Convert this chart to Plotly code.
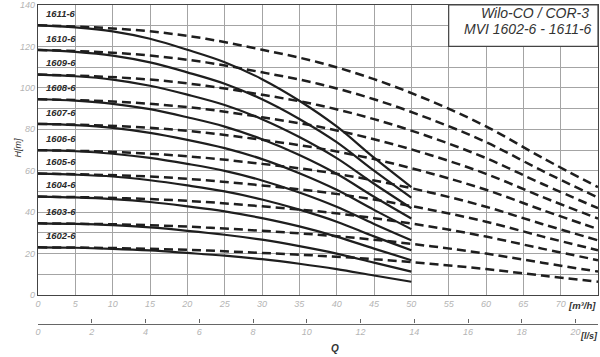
import plotly.graph_objects as go

# ---- data ----
models = ["1602-6", "1603-6", "1604-6", "1605-6", "1606-6",
          "1607-6", "1608-6", "1609-6", "1610-6", "1611-6"]

# flow points (m3/h) for the 2-pump (solid) and 3-pump (dashed) curves
flow_solid = [0, 5, 10, 15, 20, 25, 30, 35, 40, 45, 50]
flow_dashed = [0, 7.5, 15, 22.5, 30, 37.5, 45, 52.5, 60, 67.5, 75]

head_1602 = [23.0, 22.8, 22.3, 21.5, 20.3, 19.0, 17.3, 15.1, 12.5, 9.4, 6.4]
head_1603 = [34.6, 34.3, 33.7, 32.6, 31.0, 29.1, 26.7, 23.6, 20.0, 15.6, 11.3]
head_1604 = [47.5, 47.1, 46.3, 44.9, 42.8, 40.4, 37.1, 33.1, 28.2, 22.4, 16.8]
head_1605 = [58.6, 58.1, 57.2, 55.4, 52.9, 50.0, 46.1, 41.2, 35.4, 28.3, 21.6]
head_1606 = [69.9, 69.4, 68.2, 66.2, 63.3, 59.9, 55.3, 49.5, 42.6, 34.3, 26.4]
head_1607 = [82.6, 82.0, 80.7, 78.3, 74.9, 70.9, 65.6, 58.8, 50.8, 41.1, 31.8]
head_1608 = [94.5, 93.8, 92.3, 89.7, 85.8, 81.3, 75.2, 67.6, 58.5, 47.4, 36.9]
head_1609 = [106.4, 105.6, 104.0, 101.0, 96.7, 91.7, 84.9, 76.3, 66.1, 53.7, 41.9]
head_1610 = [118.3, 117.4, 115.6, 112.3, 107.5, 102.0, 94.5, 85.0, 73.8, 60.0, 47.0]
head_1611 = [130.2, 129.2, 127.3, 123.7, 118.4, 112.4, 104.2, 93.8, 81.4, 66.3, 52.1]

heads = [head_1602, head_1603, head_1604, head_1605, head_1606,
         head_1607, head_1608, head_1609, head_1610, head_1611]

x_ticks = [0, 5, 10, 15, 20, 25, 30, 35, 40, 45, 50, 55, 60, 65, 70]
y_ticks = [0, 20, 40, 60, 80, 100, 120, 140]
ls_ticks = [0, 2, 4, 6, 8, 10, 12, 14, 16, 18, 20]
title_lines = ["Wilo-CO / COR-3", "MVI 1602-6 - 1611-6"]

# ---- styling ----
FONT = "Liberation Sans"
GRID = "#a4a4a4"
TICKC = "#b4b4b4"
DARK = "#1e1e1e"
H_PAPER = 342.0  # 357 - t - b

def py(pix):
    """pixel row (from top of image) -> paper fraction"""
    return (347 - pix) / H_PAPER

fig = go.Figure()

for name, h in zip(models, heads):
    fig.add_trace(go.Scatter(x=flow_dashed, y=h, mode="lines",
                             line=dict(color=DARK, width=2.5, dash="9px,5px", shape="spline"),
                             hoverinfo="skip", showlegend=False))
    fig.add_trace(go.Scatter(x=flow_solid, y=h, mode="lines",
                             line=dict(color=DARK, width=2.2, shape="spline"),
                             hoverinfo="skip", showlegend=False))
    fig.add_annotation(x=0.8, y=h[0] + 2.0, text=name, showarrow=False,
                       xanchor="left", yanchor="bottom",
                       font=dict(family=FONT, size=9.5, color="#2a2a2a",
                                 style="italic", weight="bold"))

# invisible trace to bind the l/s axis
fig.add_trace(go.Scatter(x=[0, 20], y=[-50, -50], xaxis="x2", yaxis="y",
                         mode="lines", line=dict(width=0), hoverinfo="skip",
                         showlegend=False))

# title box
fig.add_shape(type="rect", xref="x", yref="y", x0=55, x1=75, y0=120, y1=140,
              fillcolor="white", line=dict(color="#444", width=1.2), layer="above")
fig.add_annotation(x=74.0, y=136.0, xref="x", yref="y", text=title_lines[0],
                   showarrow=False, xanchor="right", yanchor="middle",
                   font=dict(family=FONT, size=14, color="#333", style="italic"))
fig.add_annotation(x=74.4, y=128.6, xref="x", yref="y", text=title_lines[1],
                   showarrow=False, xanchor="right", yanchor="middle",
                   font=dict(family=FONT, size=14, color="#333", style="italic"))

tickfont = dict(family=FONT, size=9, color=TICKC, style="italic")
grid_vals = list(range(0, 141, 10))

fig.update_layout(
    width=600, height=357,
    margin=dict(l=38, r=2, t=5, b=10, autoexpand=False),
    paper_bgcolor="white", plot_bgcolor="white",
    xaxis=dict(range=[0, 75], tickvals=x_ticks, ticks="", showgrid=True,
               gridcolor=GRID, gridwidth=1,
               showline=True, linecolor="#444", linewidth=1.3, mirror=True,
               zeroline=False, tickfont=tickfont, anchor="y", automargin=False),
    yaxis=dict(range=[0, 140], domain=[py(295), 1], tickmode="array",
               tickvals=grid_vals,
               ticktext=[str(v) if v in y_ticks else "" for v in grid_vals],
               ticks="", showgrid=True, gridcolor=GRID, gridwidth=1,
               showline=True, linecolor="#444", linewidth=1.3,
               mirror=True, zeroline=False, tickfont=tickfont, automargin=False),
    xaxis2=dict(range=[0, 75 / 3.6], overlaying="x", anchor="free", position=py(323.5),
                side="bottom", tickvals=ls_ticks, ticks="inside", ticklen=4,
                tickcolor="#666", showgrid=False, zeroline=False, showline=True,
                linecolor="#666", linewidth=1.2, tickfont=tickfont, automargin=False),
)

fig.add_annotation(xref="paper", yref="paper", x=-0.035, y=py(148),
                   text="H[m]", textangle=-90, showarrow=False,
                   xanchor="center", yanchor="middle",
                   font=dict(family=FONT, size=9, color="#333", style="italic"))
fig.add_annotation(xref="paper", yref="paper", x=1.0, y=py(305),
                   text="[m³/h]", showarrow=False, xanchor="right", yanchor="middle",
                   font=dict(family=FONT, size=9.5, color="#333", style="italic", weight="bold"))
fig.add_annotation(xref="paper", yref="paper", x=1.003, y=py(336),
                   text="[l/s]", showarrow=False, xanchor="right", yanchor="middle",
                   font=dict(family=FONT, size=9, color="#333", style="italic", weight="bold"))
fig.add_annotation(xref="paper", yref="paper", x=(335 - 38) / 560, y=py(348),
                   text="Q", showarrow=False, xanchor="center", yanchor="middle",
                   font=dict(family=FONT, size=10, color="#333", style="italic", weight="bold"))

fig.write_html("out.html", config={"displayModeBar": False},
               post_script="document.body.style.margin='0';"
                           "document.body.style.overflow='hidden';")
